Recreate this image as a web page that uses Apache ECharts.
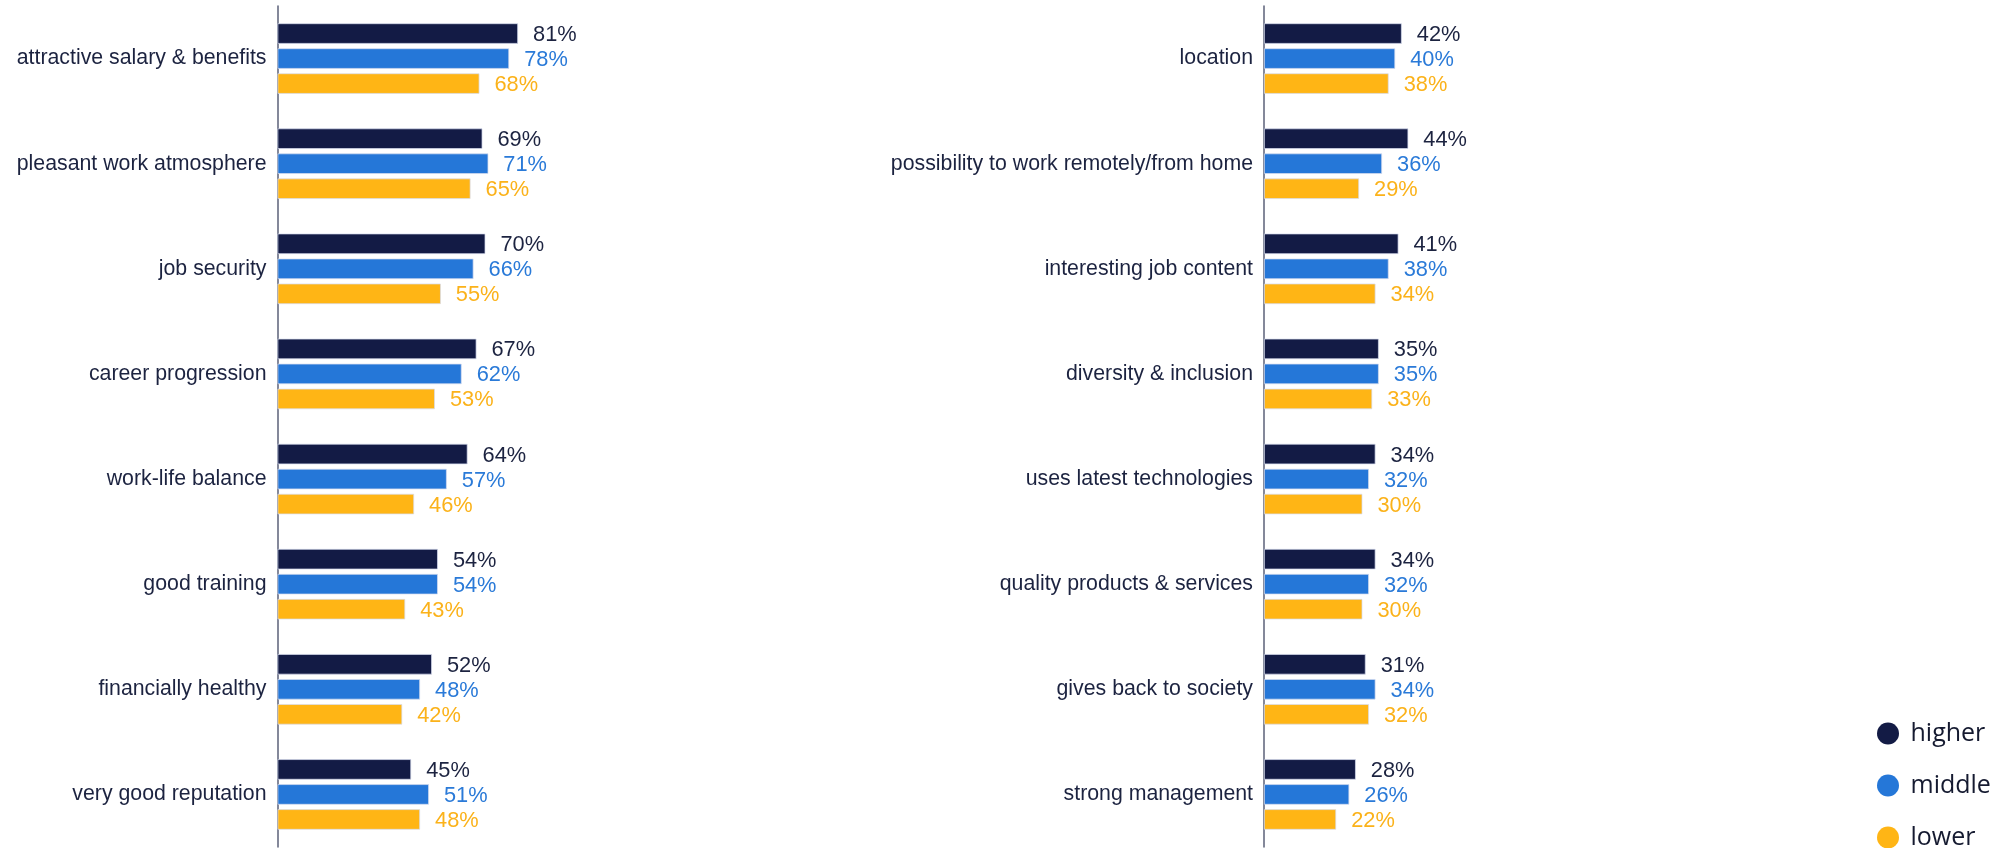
<!DOCTYPE html>
<html>
<head>
<meta charset="utf-8">
<title>Employer attractiveness drivers by level</title>
<script src="https://cdn.jsdelivr.net/npm/echarts@6/dist/echarts.min.js"></script>
<style>
  html, body { margin: 0; padding: 0; background: #ffffff; }
  #chart { width: 2005px; height: 848px; }
</style>
</head>
<body>
<div id="chart"></div>
<script>
// Left panel: categories and shares (%) per group
const leftCategories = [
  'attractive salary & benefits',
  'pleasant work atmosphere',
  'job security',
  'career progression',
  'work-life balance',
  'good training',
  'financially healthy',
  'very good reputation'
];
const leftHigher = [81, 69, 70, 67, 64, 54, 52, 45];
const leftMiddle = [78, 71, 66, 62, 57, 54, 48, 51];
const leftLower  = [68, 65, 55, 53, 46, 43, 42, 48];

// Right panel
const rightCategories = [
  'location',
  'possibility to work remotely/from home',
  'interesting job content',
  'diversity & inclusion',
  'uses latest technologies',
  'quality products & services',
  'gives back to society',
  'strong management'
];
const rightHigher = [42, 44, 41, 35, 34, 34, 31, 28];
const rightMiddle = [40, 36, 38, 35, 32, 32, 34, 26];
const rightLower  = [38, 29, 34, 33, 30, 30, 32, 22];

const groupNames = ['higher', 'middle', 'lower'];

const barColors   = ['#131b45', '#2577d8', '#ffb515'];
const labelColors = ['#1c2340', '#2a7ad8', '#fbb21a'];
const textFont = 'Liberation Sans, Arial, sans-serif';

function makeYAxis(gridIndex, cats) {
  return {
    type: 'category',
    gridIndex: gridIndex,
    data: cats,
    inverse: true,
    axisLine: { show: true, lineStyle: { color: '#5b6178', width: 1.5 } },
    axisTick: { show: false },
    axisLabel: {
      margin: 11,
      fontSize: 21.3,
      color: '#1c2340',
      fontFamily: textFont
    }
  };
}

function makeXAxis(gridIndex) {
  return { type: 'value', gridIndex: gridIndex, min: 0, max: 100, show: false };
}

function makeSeries(gridIndex, values, i) {
  return {
    type: 'bar',
    name: groupNames[i],
    xAxisIndex: gridIndex,
    yAxisIndex: gridIndex,
    data: values,
    barWidth: 20.5,
    barGap: '22%',
    itemStyle: { color: barColors[i], borderColor: 'rgba(214,220,238,0.9)', borderWidth: 0.8 },
    label: {
      show: true,
      position: 'right',
      distance: 15,
      offset: [0, 1.5],
      formatter: '{c}%',
      fontSize: 21.8,
      fontFamily: textFont,
      color: labelColors[i]
    }
  };
}

// One small legend per group, stacked in the lower-right corner
function makeLegend(name, i) {
  return {
    data: [name],
    orient: 'vertical',
    left: 1877,
    top: 721 + i * 52,
    padding: 0,
    icon: 'circle',
    itemWidth: 23,
    itemHeight: 22,
    itemStyle: { borderWidth: 0 },
    selectedMode: false,
    textStyle: {
      fontSize: 25,
      lineHeight: 22,
      fontFamily: 'Open Sans, Noto Sans, sans-serif',
      color: '#151a30',
      padding: [0, 0, 0, 6]
    }
  };
}

const chart = echarts.init(document.getElementById('chart'), null, { renderer: 'canvas' });

chart.setOption({
  animation: false,
  backgroundColor: '#ffffff',
  grid: [
    { left: 277.5, top: 6, width: 297, height: 841 },
    { left: 1264, top: 6, width: 328, height: 841 }
  ],
  xAxis: [makeXAxis(0), makeXAxis(1)],
  yAxis: [makeYAxis(0, leftCategories), makeYAxis(1, rightCategories)],
  legend: groupNames.map(makeLegend),
  series: [
    makeSeries(0, leftHigher, 0),
    makeSeries(0, leftMiddle, 1),
    makeSeries(0, leftLower, 2),
    makeSeries(1, rightHigher, 0),
    makeSeries(1, rightMiddle, 1),
    makeSeries(1, rightLower, 2)
  ]
});
</script>
</body>
</html>
